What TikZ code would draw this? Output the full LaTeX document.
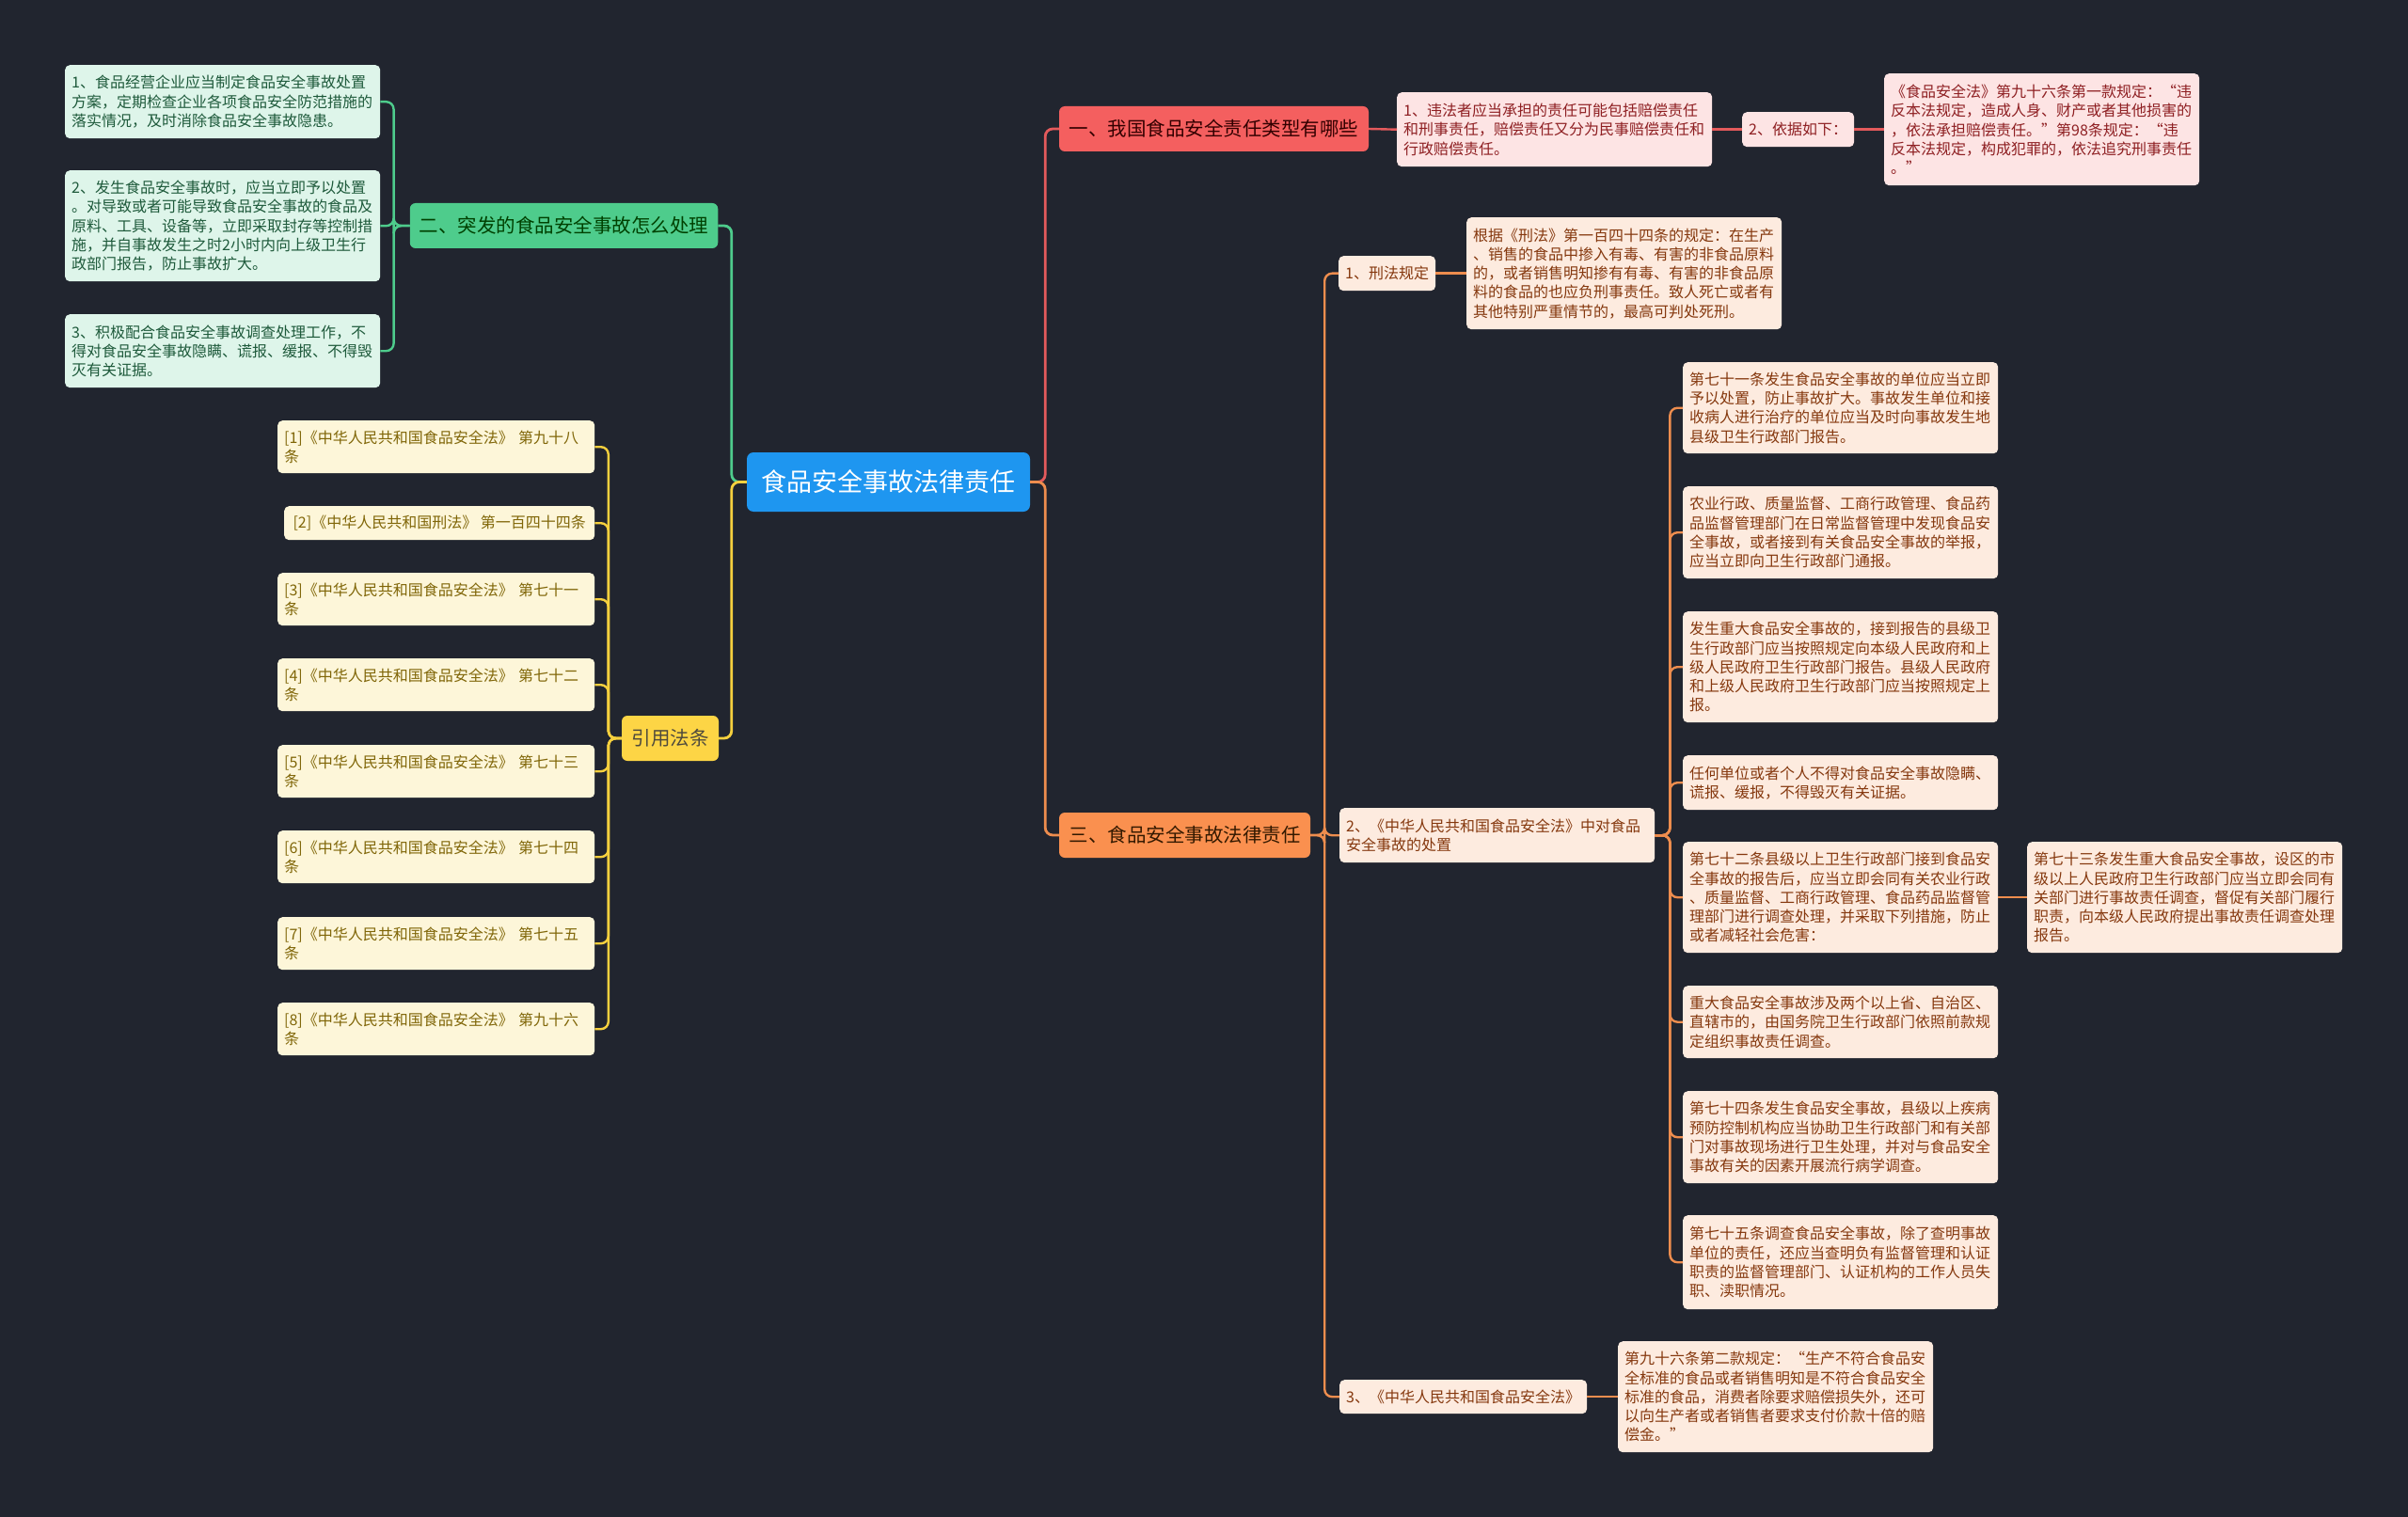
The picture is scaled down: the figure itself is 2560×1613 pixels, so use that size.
\documentclass[tikz,border=0pt]{standalone}
\usepackage{fontspec}
\setmainfont{Noto Sans CJK SC}
\usetikzlibrary{calc}
\definecolor{bg}{HTML}{21252F}
\definecolor{cblue}{HTML}{1E96F0}
\definecolor{cred}{HTML}{F45F5F}
\definecolor{lred}{HTML}{E45A5C}
\definecolor{fred}{HTML}{FDE4E4}
\definecolor{tred}{HTML}{8E1F22}
\definecolor{cgreen}{HTML}{4ECC8C}
\definecolor{lgreen}{HTML}{4ECC8C}
\definecolor{fgreen}{HTML}{DEF5EA}
\definecolor{tgreen}{HTML}{1E5A3B}
\definecolor{cyellow}{HTML}{FDD545}
\definecolor{lyellow}{HTML}{F5D03E}
\definecolor{fyellow}{HTML}{FDF6D9}
\definecolor{tyellow}{HTML}{806608}
\definecolor{corange}{HTML}{FA904F}
\definecolor{lorange}{HTML}{EE8D4E}
\definecolor{forange}{HTML}{FDEBDF}
\definecolor{torange}{HTML}{85380E}
\begin{document}
\begin{tikzpicture}[x=1pt,y=1pt,
  box/.style={rounded corners=5pt, inner xsep=7pt, inner ysep=3pt,
    font=\fontsize{16pt}{20.3pt}\selectfont, align=left, anchor=north west, text width=321pt},
  onebox/.style={rounded corners=5pt, inner xsep=7pt, inner ysep=3pt,
    font=\fontsize{16pt}{20.3pt}\selectfont, anchor=north west, minimum height=37pt},
  gsub/.style={box, fill=fgreen, text=tgreen},
  ysub/.style={box, fill=fyellow, text=tyellow, text width=323pt},
  rsub/.style={box, fill=fred, text=tred},
  osub/.style={box, fill=forange, text=torange},
  brnode/.style={rounded corners=6pt, inner xsep=10pt, inner ysep=2pt,
    font=\fontsize{20.5pt}{24pt}\selectfont, minimum height=48pt},
  cen/.style={rounded corners=7pt, fill=cblue, text=white, inner xsep=15pt,
    font=\fontsize{27pt}{32pt}\selectfont, minimum height=63pt, minimum width=301pt},
  lk/.style={line width=2.8pt, rounded corners=8pt},
]
\fill[bg] (0,0) rectangle (2560,-1613);
\useasboundingbox (0,0) rectangle (2560,-1613);

% central
\node[cen] (c) at (944.5,-512.5) {食品安全事故法律责任};

% branches
\node[brnode, fill=cred, text={black!80!red}, minimum width=329pt] (b1) at (1290.5,-137) {一、我国食品安全责任类型有哪些};
\node[brnode, fill=cgreen, text={black!75!green}, minimum width=327pt] (b2) at (599.5,-240) {二、突发的食品安全事故怎么处理};
\node[brnode, fill=corange, text={black!80!orange}, minimum width=267pt] (b3) at (1259.5,-888) {三、食品安全事故法律责任};
\node[brnode, fill=cyellow, text={black!80!yellow}, minimum width=103pt] (b4) at (712.5,-785) {引用法条};

% green subs
\node[gsub, minimum height=78pt] (g1) at (69,-69) {1、食品经营企业应当制定食品安全事故处置\\方案，定期检查企业各项食品安全防范措施的\\落实情况，及时消除食品安全事故隐患。};
\node[gsub, minimum height=118pt] (g2) at (69,-181) {2、发生食品安全事故时，应当立即予以处置\\。对导致或者可能导致食品安全事故的食品及\\原料、工具、设备等，立即采取封存等控制措\\施，并自事故发生之时2小时内向上级卫生行\\政部门报告，防止事故扩大。};
\node[gsub, minimum height=78pt] (g3) at (69,-334) {3、积极配合食品安全事故调查处理工作，不\\得对食品安全事故隐瞒、谎报、缓报、不得毁\\灭有关证据。};

% yellow refs
\node[ysub, minimum height=56pt] (y1) at (295,-447) {[1]《中华人民共和国食品安全法》 第九十八\\条};
\node[onebox, fill=fyellow, text=tyellow, minimum height=36pt, minimum width=330pt] (y2) at (302,-538) {[2]《中华人民共和国刑法》 第一百四十四条};
\node[ysub, minimum height=56pt] (y3) at (295,-609) {[3]《中华人民共和国食品安全法》 第七十一\\条};
\node[ysub, minimum height=56pt] (y4) at (295,-700) {[4]《中华人民共和国食品安全法》 第七十二\\条};
\node[ysub, minimum height=56pt] (y5) at (295,-792) {[5]《中华人民共和国食品安全法》 第七十三\\条};
\node[ysub, minimum height=56pt] (y6) at (295,-883) {[6]《中华人民共和国食品安全法》 第七十四\\条};
\node[ysub, minimum height=56pt] (y7) at (295,-975) {[7]《中华人民共和国食品安全法》 第七十五\\条};
\node[ysub, minimum height=56pt] (y8) at (295,-1066) {[8]《中华人民共和国食品安全法》 第九十六\\条};

% red subs
\node[rsub, minimum height=79pt] (r1) at (1485,-98) {1、违法者应当承担的责任可能包括赔偿责任\\和刑事责任，赔偿责任又分为民事赔偿责任和\\行政赔偿责任。};
\node[onebox, fill=fred, text=tred, minimum height=37pt] (r2) at (1852,-119) {2、依据如下：};
\node[rsub, minimum height=119pt] (r3) at (2003,-78) {《食品安全法》第九十六条第一款规定：“违\\反本法规定，造成人身、财产或者其他损害的\\，依法承担赔偿责任。”第98条规定：“违\\反本法规定，构成犯罪的，依法追究刑事责任\\。”};

% orange subs
\node[onebox, fill=forange, text=torange] (o1) at (1423,-272) {1、刑法规定};
\node[osub, minimum height=119pt] (x1) at (1559,-231) {根据《刑法》第一百四十四条的规定：在生产\\、销售的食品中掺入有毒、有害的非食品原料\\的，或者销售明知掺有有毒、有害的非食品原\\料的食品的也应负刑事责任。致人死亡或者有\\其他特别严重情节的，最高可判处死刑。};
\node[osub, minimum height=58pt] (o2) at (1424,-859) {2、《中华人民共和国食品安全法》中对食品\\安全事故的处置};
\node[osub, minimum height=97pt] (a1) at (1789,-385) {第七十一条发生食品安全事故的单位应当立即\\予以处置，防止事故扩大。事故发生单位和接\\收病人进行治疗的单位应当及时向事故发生地\\县级卫生行政部门报告。};
\node[osub, minimum height=98pt] (a2) at (1789,-517) {农业行政、质量监督、工商行政管理、食品药\\品监督管理部门在日常监督管理中发现食品安\\全事故，或者接到有关食品安全事故的举报，\\应当立即向卫生行政部门通报。};
\node[osub, minimum height=118pt] (a3) at (1789,-650) {发生重大食品安全事故的，接到报告的县级卫\\生行政部门应当按照规定向本级人民政府和上\\级人民政府卫生行政部门报告。县级人民政府\\和上级人民政府卫生行政部门应当按照规定上\\报。};
\node[osub, minimum height=58pt] (a4) at (1789,-803) {任何单位或者个人不得对食品安全事故隐瞒、\\谎报、缓报，不得毁灭有关证据。};
\node[osub, minimum height=118pt] (a5) at (1789,-895) {第七十二条县级以上卫生行政部门接到食品安\\全事故的报告后，应当立即会同有关农业行政\\、质量监督、工商行政管理、食品药品监督管\\理部门进行调查处理，并采取下列措施，防止\\或者减轻社会危害：};
\node[osub, minimum height=118pt] (a5b) at (2155,-895) {第七十三条发生重大食品安全事故，设区的市\\级以上人民政府卫生行政部门应当立即会同有\\关部门进行事故责任调查，督促有关部门履行\\职责，向本级人民政府提出事故责任调查处理\\报告。};
\node[osub, minimum height=77pt] (a6) at (1789,-1048) {重大食品安全事故涉及两个以上省、自治区、\\直辖市的，由国务院卫生行政部门依照前款规\\定组织事故责任调查。};
\node[osub, minimum height=98pt] (a7) at (1789,-1160) {第七十四条发生食品安全事故，县级以上疾病\\预防控制机构应当协助卫生行政部门和有关部\\门对事故现场进行卫生处理，并对与食品安全\\事故有关的因素开展流行病学调查。};
\node[osub, minimum height=100pt] (a8) at (1789,-1292) {第七十五条调查食品安全事故，除了查明事故\\单位的责任，还应当查明负有监督管理和认证\\职责的监督管理部门、认证机构的工作人员失\\职、渎职情况。};
\node[onebox, fill=forange, text=torange, minimum height=36pt] (o3) at (1424,-1467) {3、《中华人民共和国食品安全法》};
\node[osub, minimum height=118pt] (a9) at (1720,-1426) {第九十六条第二款规定：“生产不符合食品安\\全标准的食品或者销售明知是不符合食品安全\\标准的食品，消费者除要求赔偿损失外，还可\\以向生产者或者销售者要求支付价款十倍的赔\\偿金。”};

% connectors: central
\draw[lk, lred] (c.east) -- ++(16,0) |- (b1.west);
\draw[lk, lorange] (c.east) -- ++(16,0) |- (b3.west);
\draw[lk, lgreen] (c.west) -- ++(-16,0) |- (b2.east);
\draw[lk, lyellow] (c.west) -- ++(-16,0) |- (b4.east);

% green
\foreach \n in {g1,g2,g3} \draw[lk, lgreen, line width=2.4pt] (b2.west) -- ++(-17,0) |- (\n.east);
% yellow
\foreach \n in {y1,y2,y3,y4,y5,y6,y7,y8} \draw[lk, lyellow, line width=2.4pt] (b4.west) -- ++(-14,0) |- (\n.east);
% red
\draw[lk, lred, line width=2.4pt] (b1.east) -- (r1.west);
\draw[lk, lred, line width=2.4pt] (r1.east) -- (r2.west);
\draw[lk, lred, line width=2.4pt] (r2.east) -- (r3.west);
% orange
\foreach \n in {o1,o2,o3} \draw[lk, lorange, line width=2.4pt] (b3.east) -- ++(15,0) |- (\n.west);
\draw[lk, lorange, line width=2.4pt] (o1.east) -- (x1.west);
\foreach \n in {a1,a2,a3,a4,a5,a6,a7,a8} \draw[lk, lorange, line width=2.4pt] (o2.east) -- ++(16,0) |- (\n.west);
\draw[lk, lorange, line width=2.4pt] (a5.east) -- (a5b.west);
\draw[lk, lorange, line width=2.4pt] (o3.east) -- (a9.west);
\end{tikzpicture}
\end{document}
